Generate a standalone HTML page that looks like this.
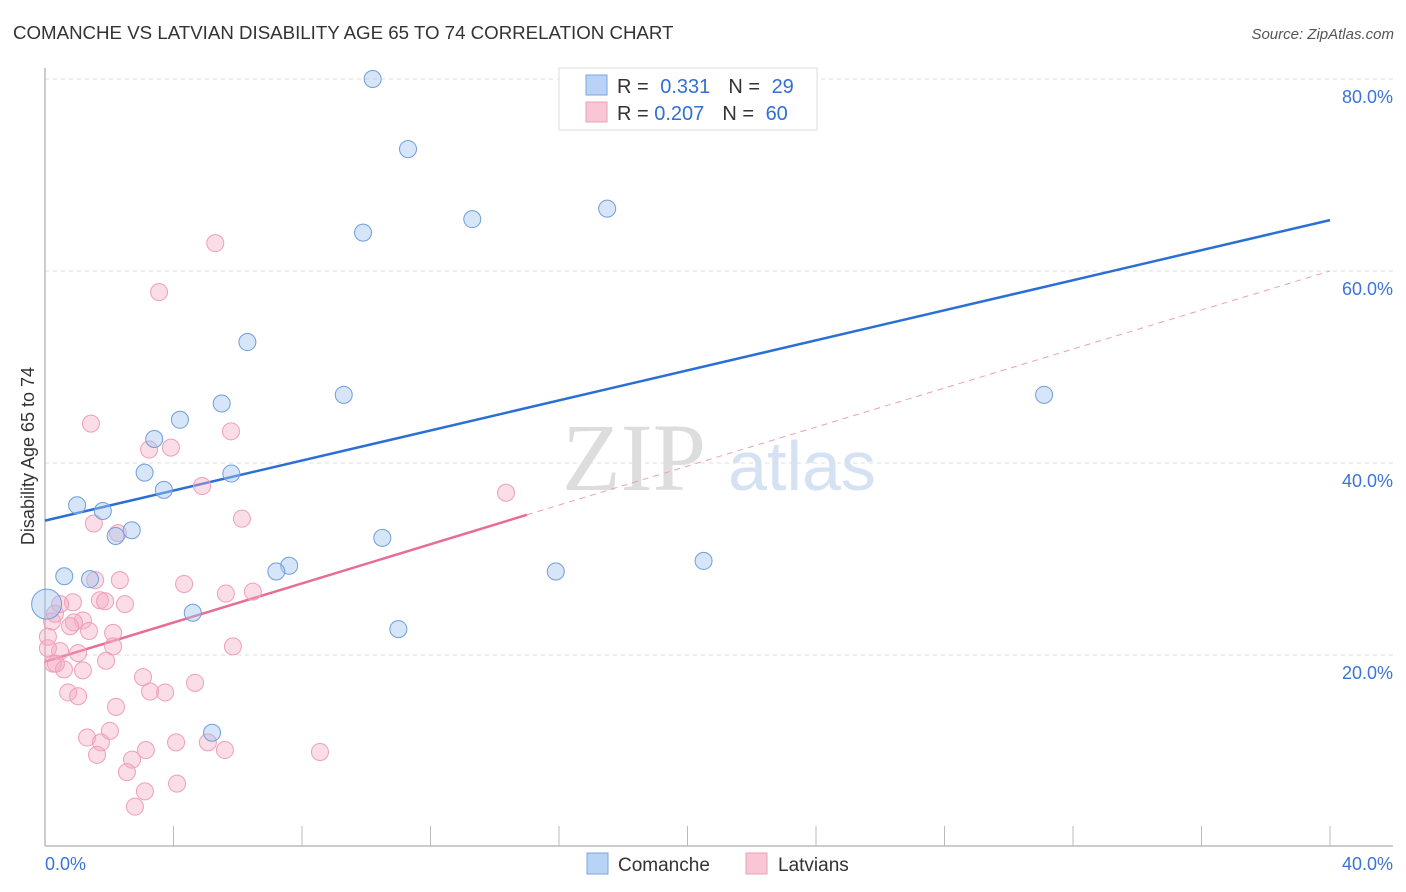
<!DOCTYPE html>
<html><head><meta charset="utf-8"><style>
body{margin:0;background:#fff;font-family:"Liberation Sans",sans-serif}
svg{display:block}
</style></head><body>
<svg id="chart" width="1406" height="892" viewBox="0 0 1406 892">
<text x="13" y="39" font-size="18.7" fill="#333">COMANCHE VS LATVIAN DISABILITY AGE 65 TO 74 CORRELATION CHART</text>
<text x="1394" y="39" font-size="15" fill="#555" font-style="italic" text-anchor="end">Source: ZipAtlas.com</text>
<text transform="translate(34,456) rotate(-90)" font-size="18" fill="#333" text-anchor="middle">Disability Age 65 to 74</text>
<g>
<text x="634" y="490" font-size="96" font-family="Liberation Serif,serif" fill="#ddd" text-anchor="middle">ZIP</text>
<text x="802" y="490" font-size="70" fill="#d4e2f4" text-anchor="middle">atlas</text>
</g>
<g id="grid"></g>
<g id="axes"></g>
<g id="lines"></g>
<g id="pts"></g>
<g>
<rect x="559" y="68" width="258" height="62" fill="#fff" stroke="#ddd"/>
<rect x="586" y="75" width="21" height="20" fill="#b8d3f5" stroke="#7aa6e0"/>
<rect x="586" y="102" width="21" height="20" fill="#f9c6d5" stroke="#eba0b7"/>
<text x="617" y="93" font-size="20" fill="#333">R = <tspan fill="#2f6fd6" dx="6">0.331</tspan><tspan dx="18" fill="#333">N = </tspan><tspan fill="#2f6fd6" dx="6">29</tspan></text>
<text x="617" y="120" font-size="20" fill="#333">R = <tspan fill="#2f6fd6">0.207</tspan><tspan dx="18" fill="#333">N = </tspan><tspan fill="#2f6fd6" dx="6">60</tspan></text>
</g>
<g>
<rect x="587" y="853" width="21" height="21" fill="#b8d3f5" stroke="#7aa6e0"/>
<text x="618" y="871" font-size="19" fill="#333">Comanche</text>
<rect x="746" y="853" width="21" height="21" fill="#f9c6d5" stroke="#eba0b7"/>
<text x="778" y="871" font-size="19" fill="#333">Latvians</text>
</g>
</svg>
<script>
const yTicks=[20,40,60,80];
const xTickLabels=["0.0%","40.0%"];
const comancheX=[10.2,11.3,17.5,13.3,9.9,6.3,9.3,31.1,5.5,4.2,3.4,3.1,5.8,3.7,1.0,1.8,2.7,2.2,10.5,7.6,7.2,15.9,20.5,0.6,1.4,4.6,11.0,5.2,0.05];
const comancheY=[80.0,72.7,66.5,65.4,64.0,52.6,47.1,47.1,46.2,44.5,42.5,39.0,38.9,37.2,35.6,35.0,33.0,32.4,32.2,29.3,28.7,28.7,29.8,28.2,27.9,24.4,22.7,11.9,25.3];
const latvianX=[5.3,3.55,1.43,5.79,3.92,3.24,4.89,14.35,6.13,1.52,2.27,2.33,1.56,4.33,6.47,5.63,1.71,2.49,0.87,1.87,1.18,0.90,2.12,1.37,0.78,0.22,5.85,2.12,0.47,1.03,0.09,0.25,0.59,1.90,1.18,0.34,3.05,0.72,1.03,3.27,3.74,4.67,2.21,1.31,1.74,2.02,3.14,4.08,5.07,5.60,8.56,1.62,2.71,2.55,4.11,3.11,2.80,0.31,0.09,0.47];
const latvianY=[62.9,57.8,44.1,43.3,41.6,41.4,37.6,36.9,34.2,33.7,32.7,27.8,27.8,27.4,26.6,26.4,25.7,25.3,25.5,25.6,23.6,23.4,22.3,22.5,23.0,23.5,20.9,20.9,20.4,20.2,20.7,19.1,18.5,19.4,18.4,19.1,17.7,16.1,15.7,16.2,16.1,17.1,14.6,11.4,10.9,12.1,10.1,10.9,10.9,10.1,9.9,9.6,9.1,7.8,6.6,5.8,4.2,24.3,21.9,25.3];
const comancheTrend=[34.0,65.3];
const latvianTrend=[19.3,34.6,60.0];
const NS="http://www.w3.org/2000/svg";
const X=v=>45+v*32.125, Y=v=>847-v*9.6;
function mk(tag,attrs,parent){const e=document.createElementNS(NS,tag);for(const k in attrs)e.setAttribute(k,attrs[k]);parent.appendChild(e);return e;}
const grid=document.getElementById('grid'),axes=document.getElementById('axes'),lines=document.getElementById('lines'),pts=document.getElementById('pts');
yTicks.forEach(t=>{
 const l=mk('line',{x1:45,x2:1393,y1:Y(t),y2:Y(t),stroke:'#ddd','stroke-dasharray':'4,4'},grid);
 
 
 const tx=mk('text',{x:1393,y:Y(t)+24,'font-size':18,fill:'#3a74d4','text-anchor':'end'},axes);
 tx.textContent=t.toFixed(1)+'%';
 
 
});
const ax=mk('line',{x1:45,x2:1393,y1:846,y2:846,stroke:'#bbb','stroke-width':1.5},axes);


const ay=mk('line',{x1:45,x2:45,y1:68,y2:846,stroke:'#bbb','stroke-width':1.5},axes);


for(let i=0;i<=10;i++){const t=mk('line',{x1:X(i*4),x2:X(i*4),y1:826,y2:846,stroke:'#bbb'},axes);
 
 }
[[0,'start',45],[40,'end',1393]].forEach((d,i)=>{const t=mk('text',{x:d[2],y:870,'font-size':18,fill:'#3a74d4','text-anchor':d[1]},axes);t.textContent=xTickLabels[i];
 
 });
latvianX.forEach((x,i)=>{const c=mk('circle',{cx:X(x),cy:Y(latvianY[i]),r:8.5,fill:'rgba(246,170,195,0.4)',stroke:'#ef9fb8','stroke-width':1},pts);
 
 });
comancheX.forEach((x,i)=>{const c=mk('circle',{cx:X(x),cy:Y(comancheY[i]),r:i==28?15:8.5,fill:'rgba(165,198,240,0.45)',stroke:'#6f9fdc','stroke-width':1},pts);
 
 });
const bl=mk('line',{x1:X(0),y1:Y(comancheTrend[0]),x2:X(40),y2:Y(comancheTrend[1]),stroke:'#2a6fd6','stroke-width':2.5},lines);


const pl=mk('line',{x1:X(0),y1:Y(latvianTrend[0]),x2:X(15),y2:Y(latvianTrend[1]),stroke:'#e86d96','stroke-width':2.5},lines);


const pd=mk('line',{x1:X(15),y1:Y(latvianTrend[1]),x2:X(40),y2:Y(latvianTrend[2]),stroke:'#eba0b7','stroke-width':1,'stroke-dasharray':'6,5'},lines);


</script>
</body></html>
